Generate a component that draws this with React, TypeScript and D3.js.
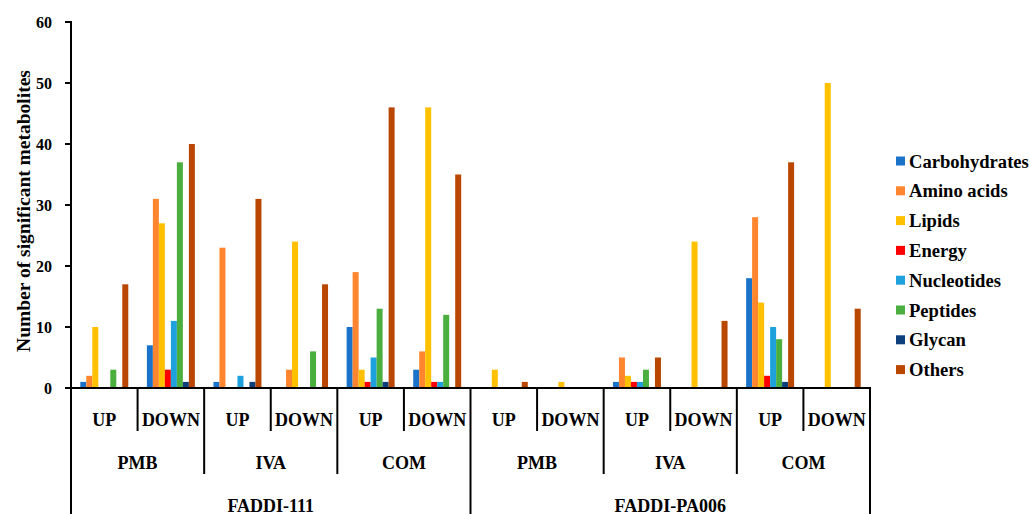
import React from 'react';
import * as d3 from 'd3';

// categories (legend order)
const categories = ['Carbohydrates', 'Amino acids', 'Lipids', 'Energy', 'Nucleotides', 'Peptides', 'Glycan', 'Others'];
const colors = ['#1a73c9', '#ff852f', '#ffc000', '#ff0000', '#1ea1dd', '#4aaf3f', '#0c3f7c', '#b94700'];

// x-axis hierarchy
const strains = ['FADDI-111', 'FADDI-PA006'];
const treatments = ['PMB', 'IVA', 'COM'];
const directions = ['UP', 'DOWN'];

// values per category, in column order (strain > treatment > direction)
const carbohydrates = [1, 7, 1, 0, 10, 3, 0, 0, 1, 0, 18, 0];
const aminoAcids = [2, 31, 23, 3, 19, 6, 0, 0, 5, 0, 28, 0];
const lipids = [10, 27, 0, 24, 3, 46, 3, 1, 2, 24, 14, 50];
const energy = [0, 3, 0, 0, 1, 1, 0, 0, 1, 0, 2, 0];
const nucleotides = [0, 11, 2, 0, 5, 1, 0, 0, 1, 0, 10, 0];
const peptides = [3, 37, 0, 6, 13, 12, 0, 0, 3, 0, 8, 0];
const glycan = [0, 1, 1, 0, 1, 0, 0, 0, 0, 0, 1, 0];
const others = [17, 40, 31, 17, 46, 35, 1, 0, 5, 11, 37, 13];

const yTicks = [0, 10, 20, 30, 40, 50, 60];

const series = [carbohydrates, aminoAcids, lipids, energy, nucleotides, peptides, glycan, others];

const FONT = "'Liberation Serif', 'Times New Roman', Times, serif";

const App = () => {
  const W = 1030;
  const H = 514;
  const left = 71;
  const right = 870;
  const top = 22;
  const bottom = 388;

  // build columns
  const columns: { key: string; strain: string; treatment: string; dir: string }[] = [];
  strains.forEach(s => treatments.forEach(t => directions.forEach(d => {
    columns.push({ key: `${s}|${t}|${d}`, strain: s, treatment: t, dir: d });
  })));

  const x0 = d3.scaleBand().domain(columns.map(c => c.key)).range([left, right]);
  const x1 = d3.scaleBand().domain(categories).range([0, x0.bandwidth()]).paddingInner(0).paddingOuter(1.55);
  const y = d3.scaleLinear().domain([0, 60]).range([bottom, top]);

  const step = x0.step();
  const boundaries = d3.range(columns.length + 1).map(i => left + i * step);
  const txt = { fontFamily: FONT, fontWeight: 700 } as React.CSSProperties;

  return (
    <svg width={W} height={H} style={{ position: 'absolute', left: 0, top: 0, background: '#fff', fontFamily: FONT }}>
      <rect width={W} height={H} fill="#fff" />
      {/* bars */}
      {columns.map((c, ci) => (
        <g key={c.key} transform={`translate(${x0(c.key)},0)`}>
          {categories.map((cat, k) => {
            const v = series[k][ci];
            if (!v) return null;
            return (
              <rect key={cat} x={x1(cat)} y={y(v)} width={x1.bandwidth()} height={y(0) - y(v)} fill={colors[k]} />
            );
          })}
        </g>
      ))}

      {/* y axis */}
      <line x1={left} x2={left} y1={top - 1} y2={bottom} stroke="#000" strokeWidth={2} />
      {yTicks.map(t => (
        <g key={t}>
          <line x1={left - 6} x2={left} y1={y(t)} y2={y(t)} stroke="#000" strokeWidth={2} />
          <text x={left - 19} y={y(t)} dy="0.35em" textAnchor="end" fontSize={16} style={txt}>{t}</text>
        </g>
      ))}
      <text transform="translate(23,211) rotate(-90)" textAnchor="middle" dy="0.35em"
        fontSize={19.5} style={txt}>Number of significant metabolites</text>

      {/* x axis */}
      <line x1={left - 1} x2={right + 1} y1={bottom} y2={bottom} stroke="#000" strokeWidth={2} />
      {boundaries.map((bx, i) => {
        const end = i % 6 === 0 ? H + 2 : i % 2 === 0 ? 474 : 431;
        return <line key={i} x1={bx} x2={bx} y1={bottom} y2={end} stroke="#000" strokeWidth={2} />;
      })}
      {columns.map(c => (
        <text key={c.key} x={(x0(c.key) as number) + step / 2} y={420} dy="0.35em" textAnchor="middle"
          fontSize={18} style={txt}>{c.dir}</text>
      ))}
      {strains.map((s, si) => treatments.map((t, ti) => {
        const cx = left + (si * 6 + ti * 2 + 1) * step;
        return (
          <text key={s + t} x={cx} y={463} dy="0.35em" textAnchor="middle" fontSize={18} style={txt}>{t}</text>
        );
      }))}
      {strains.map((s, si) => (
        <text key={s} x={left + (si * 6 + 3) * step} y={506} dy="0.35em" textAnchor="middle" fontSize={18}
          style={txt}>{s}</text>
      ))}

      {/* legend */}
      {categories.map((cat, k) => (
        <g key={cat} transform={`translate(896,${161 + k * 29.8})`}>
          <rect x={0} y={-4.5} width={9} height={9} fill={colors[k]} />
          <text x={13} y={0} dy="0.35em" fontSize={18.6} style={txt}>{cat}</text>
        </g>
      ))}
    </svg>
  );
};

export default App;
